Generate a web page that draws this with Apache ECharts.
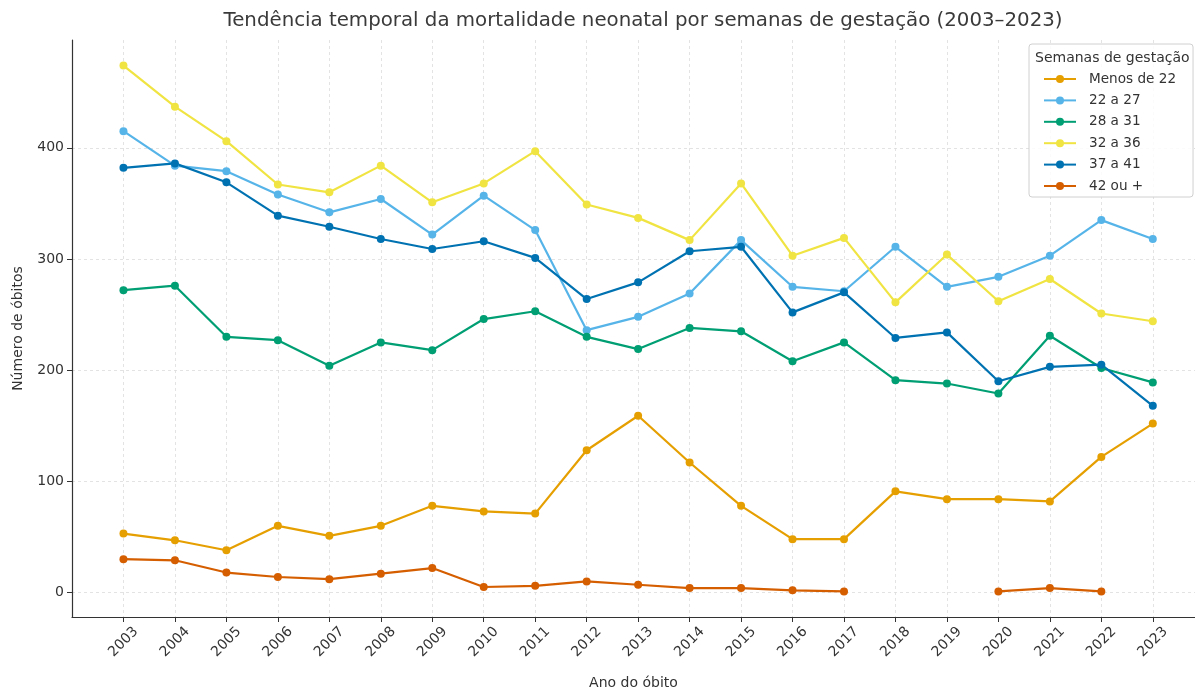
<!DOCTYPE html>
<html>
<head>
<meta charset="utf-8">
<script src="https://cdn.jsdelivr.net/npm/echarts@6/dist/echarts.min.js"></script>
<style>
  html, body { margin: 0; padding: 0; background: #fff; }
</style>
</head>
<body>
<div id="main" style="width: 1195px;height:695px;"></div>
<script>
const years = [2003, 2004, 2005, 2006, 2007, 2008, 2009, 2010, 2011, 2012, 2013,
  2014, 2015, 2016, 2017, 2018, 2019, 2020, 2021, 2022, 2023]
const yTicks = [0, 100, 200, 300, 400]

const menos22 = [53, 47, 38, 60, 51, 60, 78, 73, 71, 128, 159, 117, 78, 48, 48, 91, 84, 84, 82, 122, 152]
const s22a27 = [415, 384, 379, 358, 342, 354, 322, 357, 326, 236, 248, 269, 317, 275, 271, 311, 275, 284, 303, 335, 318]
const s28a31 = [272, 276, 230, 227, 204, 225, 218, 246, 253, 230, 219, 238, 235, 208, 225, 191, 188, 179, 231, 202, 189]
const s32a36 = [474, 437, 406, 367, 360, 384, 351, 368, 397, 349, 337, 317, 368, 303, 319, 261, 304, 262, 282, 251, 244]
const s37a41 = [382, 386, 369, 339, 329, 318, 309, 316, 301, 264, 279, 307, 311, 252, 270, 229, 234, 190, 203, 205, 168]
const s42mais = [30, 29, 18, 14, 12, 17, 22, 5, 6, 10, 7, 4, 4, 2, 1, null, null, 1, 4, 1, null]

const seriesNames = ['Menos de 22', '22 a 27', '28 a 31', '32 a 36', '37 a 41', '42 ou +']
const seriesValues = [menos22, s22a27, s28a31, s32a36, s37a41, s42mais]
const colors = ['#E69F00', '#56B4E9', '#009E73', '#F0E442', '#0072B2', '#D55E00']

const gridLine = { show: true, lineStyle: { color: '#dcdcdc', width: 0.8, type: [3, 3] } }

const option = {
  backgroundColor: '#fff',
  color: colors,
  textStyle: { fontFamily: 'DejaVu Sans' },
  title: [
    {
      text: 'Tendência temporal da mortalidade neonatal por semanas de gestação (2003–2023)',
      left: 638,
      textAlign: 'center',
      top: 6,
      textStyle: { fontSize: 19.8, fontWeight: 'normal', color: '#3a3a3a' }
    },
    {
      // titulo da legenda
      text: 'Semanas de gestação',
      left: 1030,
      top: 46,
      textStyle: { fontSize: 14, fontWeight: 'normal', color: '#333' }
    }
  ],
  legend: {
    data: seriesNames,
    orient: 'vertical',
    left: 1029,
    top: 44,
    padding: [28, 17, 4, 14],
    itemWidth: 32,
    itemHeight: 10,
    itemGap: 7.4,
    borderColor: '#d0d0d0',
    borderWidth: 1,
    borderRadius: 3,
    backgroundColor: 'rgba(255,255,255,0.85)',
    textStyle: { fontSize: 13.6, lineHeight: 14, color: '#333', padding: [0, 0, 0, 8] }
  },
  grid: {
    left: 72,
    right: 0,
    top: 40,
    bottom: 70,
    containLabel: false
  },
  xAxis: {
    type: 'value',
    min: 2002,
    max: 2023.82,
    name: 'Ano do óbito',
    nameLocation: 'middle',
    nameGap: 59,
    nameTextStyle: { fontSize: 14, color: '#333' },
    axisLine: { show: true, onZero: false, lineStyle: { color: '#333', width: 1.2 } },
    axisTick: { show: true, length: 5, customValues: years, lineStyle: { color: '#333' } },
    axisLabel: {
      customValues: years,
      rotate: 45,
      align: 'center',
      verticalAlign: 'middle',
      fontSize: 14,
      color: '#333',
      margin: 25,
      formatter: v => String(v)
    },
    splitLine: gridLine
  },
  yAxis: {
    type: 'value',
    min: -22,
    max: 497,
    name: 'Número de óbitos',
    nameLocation: 'middle',
    nameGap: 47,
    nameTextStyle: { fontSize: 14, color: '#333' },
    axisLine: { show: true, lineStyle: { color: '#333', width: 1.2 } },
    axisTick: { show: true, length: 5, customValues: yTicks, lineStyle: { color: '#333' } },
    axisLabel: { customValues: yTicks, fontSize: 14, color: '#333', margin: 8 },
    splitLine: gridLine
  },
  series: seriesNames.map((name, i) => ({
    name: name,
    type: 'line',
    data: years.map((y, j) => [y, seriesValues[i][j]]),
    symbol: 'circle',
    symbolSize: 8,
    showSymbol: true,
    connectNulls: false,
    lineStyle: { width: 2.2 },
    emphasis: { disabled: true }
  }))
}

const myChart = echarts.init(document.getElementById('main'))
myChart.setOption(option)
</script>
</body>
</html>
